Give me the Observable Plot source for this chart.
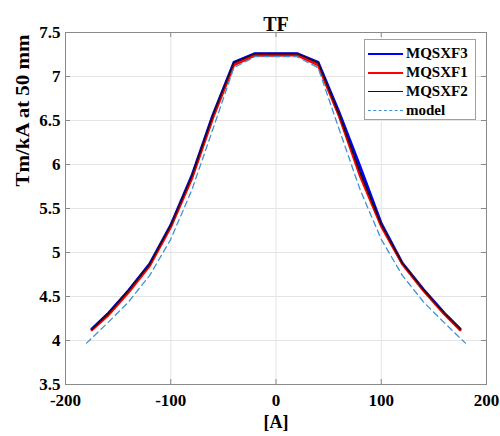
<!DOCTYPE html>
<html>
<head>
<meta charset="utf-8">
<script src="https://cdn.jsdelivr.net/npm/d3@7"></script>
<script src="https://cdn.jsdelivr.net/npm/@observablehq/plot@0.6"></script>
<style>
  html, body { margin: 0; padding: 0; background: #fff; }
  #wrap { position: relative; width: 500px; height: 436px; font-family: "Liberation Serif", "Times New Roman", serif; }
  #legend { position: absolute; left: 364px; top: 39px; width: 112px; height: 81px; border: 1px solid #a0a0a0; background: #fff; box-sizing: border-box; }
  .lg-row { position: absolute; left: 0; height: 19px; width: 100%; }
  .lg-line { position: absolute; left: 3px; top: 9px; width: 35px; height: 0; }
  .lg-text { position: absolute; left: 41px; top: 0; font-size: 15px; font-weight: bold; line-height: 19px; color: #000; }
</style>
</head>
<body>
<div id="wrap"></div>
<script>
// ---- data ----
const current = [-175, -160, -140, -120, -100, -80, -60, -40, -20, 0, 20, 40, 60, 80, 100, 120, 140, 160, 175];
const mqsxf3 = [4.13, 4.30, 4.57, 4.87, 5.31, 5.87, 6.56, 7.16, 7.26, 7.26, 7.26, 7.16, 6.59, 5.97, 5.33, 4.88, 4.58, 4.31, 4.13];
const mqsxf1 = [4.12, 4.28, 4.55, 4.85, 5.29, 5.84, 6.53, 7.13, 7.24, 7.24, 7.245, 7.13, 6.55, 5.87, 5.30, 4.87, 4.57, 4.30, 4.12];
const mqsxf2 = [4.13, 4.30, 4.57, 4.87, 5.31, 5.87, 6.56, 7.16, 7.26, 7.26, 7.26, 7.16, 6.57, 5.91, 5.32, 4.88, 4.58, 4.31, 4.13];
const modelCurrent = [-180, -160, -140, -120, -100, -80, -60, -40, -20, 0, 20, 40, 60, 80, 100, 120, 140, 160, 180];
const modelValues = [3.97, 4.20, 4.44, 4.74, 5.15, 5.71, 6.40, 7.10, 7.225, 7.225, 7.225, 7.10, 6.40, 5.71, 5.15, 4.74, 4.44, 4.20, 3.97];
const seriesNames = ["MQSXF3", "MQSXF1", "MQSXF2", "model"];
const xTicks = [-200, -100, 0, 100, 200];
const yTicks = [3.5, 4, 4.5, 5, 5.5, 6, 6.5, 7, 7.5];
const titleText = "TF";
const xLabel = "[A]";
const yLabel = "Tm/kA at 50 mm";

// ---- build tables ----
const rows = (xs, ys, name) => xs.map((x, i) => ({A: x, v: ys[i], series: name}));
const d3rows = rows(current, mqsxf3, "MQSXF3");
const d1rows = rows(current, mqsxf1, "MQSXF1");
const d2rows = rows(current, mqsxf2, "MQSXF2");
const mrows = rows(modelCurrent, modelValues, "model");

const styles = {
  MQSXF3: {stroke: "#0000ff", strokeWidth: 2.9},
  MQSXF1: {stroke: "#ff0000", strokeWidth: 2.7},
  MQSXF2: {stroke: "#111122", strokeWidth: 1.6},
  model: {stroke: "#3f93d6", strokeWidth: 1.3, strokeDasharray: "6,4"}
};

const font = '"Liberation Serif", "Times New Roman", serif';
const gridColor = "#e4e4e4";
const axisColor = "#8a8a8a";

const chart = Plot.plot({
  width: 500,
  height: 436,
  marginTop: 32,
  marginRight: 14,
  marginBottom: 52,
  marginLeft: 65,
  style: {fontFamily: font, fontWeight: "bold", background: "white", color: "black"},
  x: {domain: [-200, 200]},
  y: {domain: [3.5, 7.5]},
  marks: [
    Plot.gridX(xTicks, {stroke: gridColor, strokeOpacity: 1}),
    Plot.gridY(yTicks, {stroke: gridColor, strokeOpacity: 1}),
    Plot.line(d3rows, {x: "A", y: "v", ...styles.MQSXF3}),
    Plot.line(d1rows, {x: "A", y: "v", ...styles.MQSXF1}),
    Plot.line(d2rows, {x: "A", y: "v", ...styles.MQSXF2}),
    Plot.line(mrows, {x: "A", y: "v", ...styles.model}),
    Plot.frame({stroke: axisColor}),
    Plot.tickX(xTicks, {x: d => d, insetTop: 347, stroke: axisColor}),
    Plot.tickX(xTicks, {x: d => d, insetBottom: 347, stroke: axisColor}),
    Plot.tickY(yTicks, {y: d => d, insetRight: 416, stroke: axisColor}),
    Plot.tickY(yTicks, {y: d => d, insetLeft: 416, stroke: axisColor}),
    Plot.axisX(xTicks, {tickSize: 0, tickPadding: 9, fontSize: 17, fontWeight: "bold", tickFormat: d => String(d), label: null}),
    Plot.axisY(yTicks, {tickSize: 0, tickPadding: 5, fontSize: 17, fontWeight: "bold", tickFormat: d => String(d), label: null}),
    Plot.text([titleText], {text: d => d, frameAnchor: "top", dy: -16, fontSize: 20, fontWeight: "bold"}),
    Plot.text([xLabel], {text: d => d, frameAnchor: "bottom", dy: 43, fontSize: 18, fontWeight: "bold"}),
    Plot.text([yLabel], {text: d => d, frameAnchor: "left", rotate: -90, dx: -42, dy: -22, fontSize: 18, fontWeight: "bold"})
  ]
});

const wrap = document.getElementById("wrap");
wrap.appendChild(chart);

// stretch y-label to the reference's length
d3.select(chart).selectAll("text").filter(function() { return this.textContent === yLabel; })
  .attr("textLength", 152).attr("lengthAdjust", "spacingAndGlyphs");

// ---- legend ----
const legend = document.createElement("div");
legend.id = "legend";
seriesNames.forEach((name, i) => {
  const row = document.createElement("div");
  row.className = "lg-row";
  row.style.top = (4 + i * 19) + "px";
  const ln = document.createElement("div");
  ln.className = "lg-line";
  const s = styles[name];
  ln.style.borderTop = s.strokeWidth + "px " + (s.strokeDasharray ? "dashed" : "solid") + " " + s.stroke;
  ln.style.top = (10 - s.strokeWidth / 2) + "px";
  const tx = document.createElement("div");
  tx.className = "lg-text";
  tx.textContent = name;
  row.appendChild(ln);
  row.appendChild(tx);
  legend.appendChild(row);
});
wrap.appendChild(legend);
</script>
</body>
</html>
